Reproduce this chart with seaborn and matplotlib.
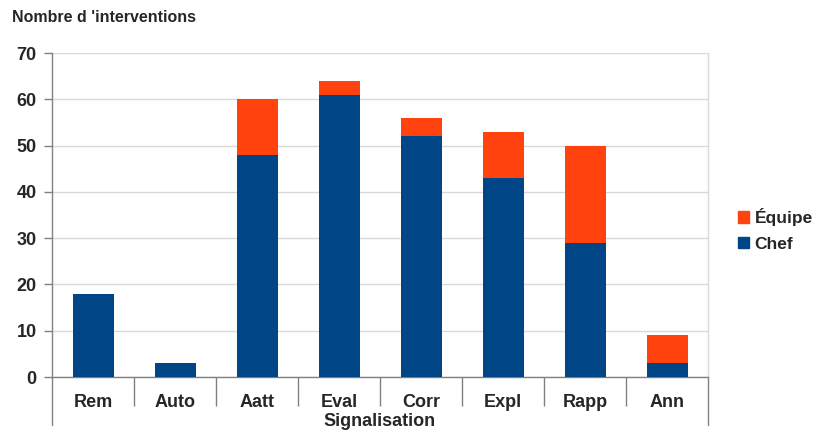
import matplotlib
matplotlib.use("Agg")
import matplotlib.pyplot as plt
import seaborn as sns
import pandas as pd
from matplotlib.lines import Line2D
from matplotlib.patches import Patch

categories = ["Rem", "Auto", "Aatt", "Eval", "Corr", "Expl", "Rapp", "Ann"]
chef = [18, 3, 48, 61, 52, 43, 29, 3]
equipe = [0, 0, 12, 3, 4, 10, 21, 6]

blue = "#004586"
orange = "#ff420e"
grid = "#d9d9d9"
axis = "#808080"

sns.set_theme(style="white")
plt.rcParams['font.family'] = ['Liberation Sans', 'DejaVu Sans']

df = pd.DataFrame({"cat": categories, "Chef": chef,
                   "Total": [c + e for c, e in zip(chef, equipe)]})

fig = plt.figure(figsize=(8.19, 4.30), dpi=100)
ax = fig.add_axes([52/819, 1-377/430, (708-52)/819, (377-53)/430])

sns.barplot(data=df, x="cat", y="Total", color=orange, saturation=1,
            width=0.5, ax=ax, zorder=3, linewidth=0)
sns.barplot(data=df, x="cat", y="Chef", color=blue, saturation=1,
            width=0.5, ax=ax, zorder=4, linewidth=0)

ax.set_ylim(0, 70)
ax.set_xlim(-0.5, len(categories) - 0.5)
ax.set_yticks(range(0, 71, 10))
ax.yaxis.grid(True, color=grid, linewidth=1, zorder=0)
ax.set_axisbelow(True)

ax.spines["top"].set_visible(False)
ax.spines["right"].set_color(grid)
ax.spines["right"].set_linewidth(1.0)
for s in ["left", "bottom"]:
    ax.spines[s].set_color(axis)
    ax.spines[s].set_linewidth(1.0)

ax.tick_params(axis="y", which="major", length=6, width=1, color=axis,
               labelsize=13, direction="out", left=True, pad=5)
ax.tick_params(axis="x", which="major", length=0, labelsize=13, pad=12)
ax.set_xticks(range(len(categories)))
ax.set_xticks([i + 0.5 for i in range(len(categories) - 1)], minor=True)
ax.tick_params(axis="x", which="minor", length=21, width=1, color=axis,
               direction="out", bottom=True)
for lbl in ax.get_xticklabels() + ax.get_yticklabels():
    lbl.set_fontweight("bold")

# outer frame lines of the category axis
trans = ax.get_xaxis_transform()
for xv in (-0.5, len(categories) - 0.5):
    ax.add_line(Line2D([xv, xv], [0, -48/324], transform=trans,
                       color=axis, linewidth=1, clip_on=False))

ax.set_xlabel("")
ax.set_ylabel("")
fig.text(380/819, 1-421/430, "Signalisation", fontsize=13,
         fontweight="bold", va="center", ha="center")

fig.text(12/819, 1-17/430, "Nombre d 'interventions", fontsize=11.5,
         fontweight="bold", va="center", ha="left")

handles = [Patch(color=orange, label="Équipe"), Patch(color=blue, label="Chef")]
leg = fig.legend(handles=handles, loc="center left",
                 bbox_to_anchor=(738/819, 1-230/430), frameon=False,
                 handlelength=0.65, handleheight=0.65, handletextpad=0.3,
                 labelspacing=0.6, fontsize=12.5, borderaxespad=0,
                 borderpad=0)
for t in leg.get_texts():
    t.set_fontweight("bold")

fig.savefig("out.png", dpi=100)
